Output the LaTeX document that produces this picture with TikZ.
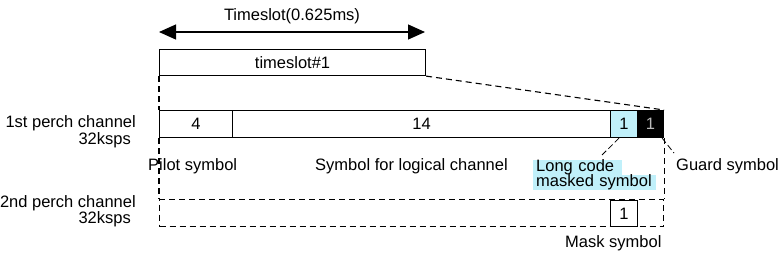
\documentclass[tikz,border=0pt]{standalone}
\usepackage{fontspec}
\setmainfont{Liberation Sans}
\usetikzlibrary{arrows.meta}
\definecolor{hl}{RGB}{192,240,250}
\begin{document}
\begin{tikzpicture}[x=1pt,y=-1pt,
  every node/.style={font=\fontsize{16.5}{17}\selectfont, inner sep=0pt},
  cell/.style={draw, line width=1.1pt, anchor=north west, minimum height=27pt},
  dcell/.style={draw, dash pattern=on 6pt off 4pt, line width=1.1pt, anchor=north west, minimum height=27pt},
  lbl/.style={text height=11.5pt, text depth=3.5pt},
  hlbox/.style={fill=hl, lbl, inner xsep=3pt, align=left},
  dashline/.style={dash pattern=on 6pt off 4pt, line width=1.1pt},
  leader/.style={line width=0.8pt, dash pattern=on 6pt off 3pt}
]
\useasboundingbox (0,0) rectangle (782,269);

% timeslot arrow
\coordinate (al) at (159,32);
\coordinate (ar) at (425,32);
\draw[line width=1.2pt, {Triangle[length=17pt,width=15pt]}-{Triangle[length=17pt,width=15pt]}] (al) -- (ar);
\node[lbl] (tslabel) at (292,16) {Timeslot(0.625ms)};

% timeslot box
\node[cell, minimum width=266pt, minimum height=26pt] (ts) at (159,49) {timeslot\#1};

% 1st perch channel row
\node[cell, minimum width=73pt] (c4) at (159,110) {4};
\node[cell, minimum width=378pt] (c14) at (232,110) {14};
\node[cell, minimum width=27pt, fill=hl] (cL) at (610,110) {1};
\node[cell, minimum width=26pt, fill=black, text=gray!55] (cG) at (637,110) {1};

% 2nd perch channel row
\node[dcell, minimum width=504pt] (row2) at (159,199) {};
\node[cell, minimum width=27pt, minimum height=26pt] (mask) at (610,200) {1};

% dashed connectors
\draw[dashline] (ts.south west) -- (c4.north west);
\draw[dashline] (ts.south east) -- (cG.north east);
\draw[dashline] (c4.south west) -- (row2.north west);
\draw[dashline] (cG.south east) -- (row2.north east);

% leaders
\coordinate (lcend) at (602,155);
\coordinate (gsend) at (674,153);
\draw[leader] ([xshift=-5pt]cL.south) -- (lcend);
\draw[leader] ([xshift=-2pt]cG.south east) -- (gsend);

% left labels
\node[lbl, anchor=east] (p1) at (136,123) {1st perch channel};
\node[lbl, anchor=east] (p1r) at (131,140) {32ksps};
\node[lbl, anchor=east] (p2) at (136,203) {2nd perch channel};
\node[lbl, anchor=east] (p2r) at (131,219) {32ksps};

% symbol labels
\node[lbl, anchor=west] (pilot) at (148,166) {Pilot symbol};
\node[lbl, anchor=west] (logical) at (315,166) {Symbol for logical channel};
\node[hlbox, anchor=west, text width=83pt] (long1) at (533,167) {Long code};
\node[hlbox, anchor=north west, text width=117pt] (long2) at (long1.south west) {masked symbol};
\node[lbl, anchor=west] (guard) at (676,166) {Guard symbol};
\node[lbl, anchor=west] (masklbl) at (565,243) {Mask symbol};
\end{tikzpicture}
\end{document}
